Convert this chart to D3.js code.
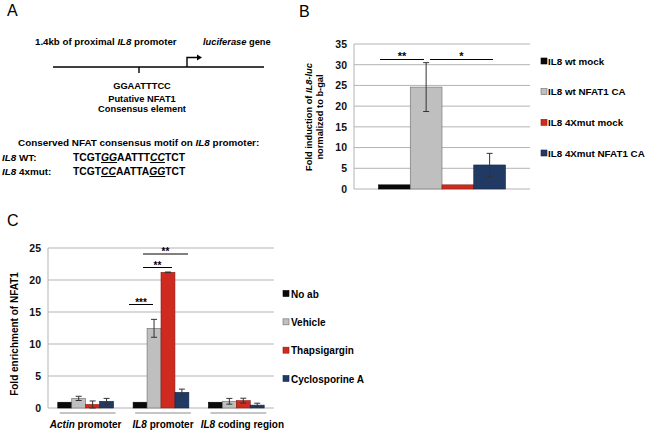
<!DOCTYPE html>
<html><head><meta charset="utf-8">
<script src="https://cdn.jsdelivr.net/npm/d3@7"></script>
<style>
body{margin:0;background:#fff;}
svg{font-family:"Liberation Sans",Arial,sans-serif;}
</style></head>
<body>
<svg id="c" width="646" height="430"></svg>
<script>
// ---- Panel B data ----
const bSeries = ["IL8 wt mock","IL8 wt NFAT1 CA","IL8 4Xmut mock","IL8 4Xmut NFAT1 CA"];
const bValues = [1.0, 24.6, 1.0, 5.8];
const bErrors = [0, 5.9, 0, 2.8];
const bTicks = [0,5,10,15,20,25,30,35];
// ---- Panel C data ----
const cCategories = ["Actin promoter","IL8 promoter","IL8 coding region"];
const cSeries = ["No ab","Vehicle","Thapsigargin","Cyclosporine A"];
const cNoAb = [0.9, 0.9, 0.9];
const cVehicle = [1.5, 12.45, 1.05];
const cThapsigargin = [0.55, 21.2, 1.15];
const cCyclosporine = [1.05, 2.45, 0.45];
const cVehicleErr = [0.33, 1.4, 0.45];
const cThapsigarginErr = [0.55, 0.05, 0.38];
const cCyclosporineErr = [0.45, 0.5, 0.3];
const cNoAbErr = [0, 0, 0];
const cTicks = [0,5,10,15,20,25];

const colors = ["#0a0a0a","#bfbfbf","#cf2a1f","#213a63"];
const strokes = ["#000","#6b6b6b","#8a1c14","#14264a"];

const svg = d3.select("#c");
const F = "Liberation Sans, Arial, sans-serif";

// ================= Panel A =================
const A = svg.append("g");
A.append("text").attr("x",7).attr("y",16).attr("font-size",16).text("A");
A.append("text").attr("x",35).attr("y",45).attr("font-size",9.7).attr("font-weight","bold")
  .html('1.4kb of proximal <tspan font-style="italic">IL8</tspan> promoter');
A.append("text").attr("x",203).attr("y",45).attr("font-size",9.3).attr("font-weight","bold")
  .html('<tspan font-style="italic">luciferase</tspan> gene');
A.append("line").attr("x1",53).attr("x2",264).attr("y1",67).attr("y2",67).attr("stroke","#000").attr("stroke-width",1.6);
A.append("line").attr("x1",139).attr("x2",139).attr("y1",67).attr("y2",73).attr("stroke","#000").attr("stroke-width",1.4);
A.append("path").attr("d","M187,67V57.5H198").attr("fill","none").attr("stroke","#000").attr("stroke-width",1.4);
A.append("path").attr("d","M197,54.5L202,57.5L197,60.5Z").attr("fill","#000");
A.append("text").attr("x",142).attr("y",89).attr("text-anchor","middle").attr("font-size",9.3).attr("font-weight","bold").text("GGAATTTCC");
A.append("text").attr("x",142).attr("y",102).attr("text-anchor","middle").attr("font-size",9.3).attr("font-weight","bold").text("Putative NFAT1");
A.append("text").attr("x",142).attr("y",112).attr("text-anchor","middle").attr("font-size",9.3).attr("font-weight","bold").text("Consensus element");
A.append("text").attr("x",18).attr("y",146).attr("font-size",9.9).attr("font-weight","bold")
  .html('Conserved NFAT consensus motif on <tspan font-style="italic">IL8</tspan> promoter:');
A.append("text").attr("x",2).attr("y",161).attr("font-size",9.9).attr("font-weight","bold")
  .html('<tspan font-style="italic">IL8</tspan> WT:');
A.append("text").attr("x",2).attr("y",175).attr("font-size",9.9).attr("font-weight","bold")
  .html('<tspan font-style="italic">IL8</tspan> 4xmut:');
function seq(y, parts){
  const t = A.append("text").attr("x",73).attr("y",y).attr("font-size",10.3).attr("font-weight","bold");
  parts.forEach(p=>{
    const s = t.append("tspan").text(p[0]);
    if(p[1]) s.attr("font-style","italic").attr("text-decoration","underline");
  });
}
seq(161, [["TCGT",0],["GG",1],["AATTT",0],["CC",1],["TCT",0]]);
seq(175, [["TCGT",0],["CC",1],["AATTA",0],["GG",1],["TCT",0]]);

// ================= Panel B =================
const B = svg.append("g");
B.append("text").attr("x",299).attr("y",17).attr("font-size",16).text("B");
const byS = d3.scaleLinear().domain([0,35]).range([189,44]);
const bx0 = d3.scaleBand().domain(["g"]).range([354,530]).paddingOuter(0.193).paddingInner(0);
const bx1 = d3.scaleBand().domain(bSeries).range([0,bx0.bandwidth()]);
B.append("g").selectAll("line").data(bTicks).join("line")
  .attr("x1",354).attr("x2",530).attr("y1",d=>byS(d)).attr("y2",d=>byS(d))
  .attr("stroke","#b3b3b3").attr("stroke-width",1);
B.append("line").attr("x1",354).attr("x2",354).attr("y1",44).attr("y2",189).attr("stroke","#b3b3b3");
const byAxis = d3.axisLeft(byS).tickValues(bTicks).tickSize(0).tickPadding(7);
const bag = B.append("g").attr("transform","translate(354,0)").call(byAxis);
bag.select(".domain").remove();
bag.selectAll("text").attr("font-size",10.5).attr("font-weight","bold").attr("fill","#111").attr("font-family",F);
B.append("g").selectAll("rect").data(bValues).join("rect")
  .attr("x",(d,i)=>bx0("g")+bx1(bSeries[i])).attr("width",bx1.bandwidth())
  .attr("y",d=>byS(d)).attr("height",d=>byS(0)-byS(d))
  .attr("fill",(d,i)=>colors[i]).attr("stroke",(d,i)=>strokes[i]).attr("stroke-width",0.6);
bValues.forEach((v,i)=>{
  if(!bErrors[i]) return;
  const cx = bx0("g")+bx1(bSeries[i])+bx1.bandwidth()/2;
  const g = B.append("g").attr("stroke","#333").attr("stroke-width",1);
  g.append("line").attr("x1",cx).attr("x2",cx).attr("y1",byS(v+bErrors[i])).attr("y2",byS(v-bErrors[i]));
  [v+bErrors[i], v-bErrors[i]].forEach(e=>g.append("line").attr("x1",cx-3).attr("x2",cx+3).attr("y1",byS(e)).attr("y2",byS(e)));
});
const sigB = [{x1:380,x2:424,t:"**"},{x1:430,x2:493,t:"*"}];
sigB.forEach(s=>{
  B.append("line").attr("x1",s.x1).attr("x2",s.x2).attr("y1",59.5).attr("y2",59.5).attr("stroke","#000").attr("stroke-width",1);
  B.append("text").attr("x",(s.x1+s.x2)/2).attr("y",60).attr("text-anchor","middle").attr("font-size",11).attr("font-weight","bold").text(s.t);
});
B.append("text").attr("transform","translate(312,117) rotate(-90)").attr("text-anchor","middle")
  .attr("font-size",9.3).attr("font-weight","bold")
  .html('Fold induction of <tspan font-style="italic">IL8-luc</tspan>');
B.append("text").attr("transform","translate(323,117) rotate(-90)").attr("text-anchor","middle")
  .attr("font-size",9.3).attr("font-weight","bold").text("normalized to b-gal");
const bLegY = d3.scalePoint().domain(bSeries).range([61,153]);
bSeries.forEach((s,i)=>{
  B.append("rect").attr("x",541).attr("y",bLegY(s)-3).attr("width",6).attr("height",6)
    .attr("fill",colors[i]).attr("stroke",strokes[i]).attr("stroke-width",0.6);
  B.append("text").attr("x",548).attr("y",bLegY(s)+3.5).attr("font-size",9.8).attr("font-weight","bold").text(s);
});

// ================= Panel C =================
const C = svg.append("g");
C.append("text").attr("x",7).attr("y",226).attr("font-size",16).text("C");
const cyS = d3.scaleLinear().domain([0,25]).range([408,248]);
const cx0 = d3.scaleBand().domain(cCategories).range([48,274]).paddingInner(0.26).paddingOuter(0.13);
const cx1 = d3.scaleBand().domain(cSeries).range([0,cx0.bandwidth()]);
C.append("g").selectAll("line").data(cTicks).join("line")
  .attr("x1",48).attr("x2",274).attr("y1",d=>cyS(d)).attr("y2",d=>cyS(d))
  .attr("stroke","#b3b3b3").attr("stroke-width",1);
C.append("line").attr("x1",48).attr("x2",48).attr("y1",248).attr("y2",408).attr("stroke","#b3b3b3");
const cag = C.append("g").attr("transform","translate(48,0)").call(d3.axisLeft(cyS).tickValues(cTicks).tickSize(0).tickPadding(7));
cag.select(".domain").remove();
cag.selectAll("text").attr("font-size",10.5).attr("font-weight","bold").attr("fill","#111").attr("font-family",F);
const cVals = [cNoAb,cVehicle,cThapsigargin,cCyclosporine];
const cErrs = [cNoAbErr,cVehicleErr,cThapsigarginErr,cCyclosporineErr];
cCategories.forEach((cat,ci)=>{
  cSeries.forEach((s,si)=>{
    const v = cVals[si][ci];
    const x = cx0(cat)+cx1(s);
    C.append("rect").attr("x",x).attr("width",cx1.bandwidth()).attr("y",cyS(v)).attr("height",cyS(0)-cyS(v))
      .attr("fill",colors[si]).attr("stroke",strokes[si]).attr("stroke-width",0.6);
    const e = cErrs[si][ci];
    if(e>0){
      const cx = x+cx1.bandwidth()/2;
      const g = C.append("g").attr("stroke","#333").attr("stroke-width",1);
      g.append("line").attr("x1",cx).attr("x2",cx).attr("y1",cyS(v+e)).attr("y2",cyS(Math.max(0,v-e)));
      [v+e, Math.max(0,v-e)].forEach(y=>g.append("line").attr("x1",cx-3).attr("x2",cx+3).attr("y1",cyS(y)).attr("y2",cyS(y)));
    }
  });
  C.append("line").attr("x1",cx0(cat)+2).attr("x2",cx0(cat)+cx0.bandwidth()+2).attr("y1",413).attr("y2",413)
    .attr("stroke","#8c8c8c").attr("stroke-width",1.2);
});
const xl = ['<tspan font-style="italic">Actin</tspan> promoter','<tspan font-style="italic">IL8</tspan> promoter','<tspan font-style="italic">IL8</tspan> coding region'];
const xlOff = [0, 2, 6];
cCategories.forEach((cat,i)=>{
  C.append("text").attr("x",cx0(cat)+cx0.bandwidth()/2+xlOff[i]).attr("y",428).attr("text-anchor","middle")
    .attr("font-size",10).attr("font-weight","bold").html(xl[i]);
});
const sigC = [{x1:129,x2:153,y:304.5,t:"***"},{x1:143,x2:172,y:267.5,t:"**"},{x1:143,x2:188,y:254,t:"**"}];
sigC.forEach(s=>{
  C.append("line").attr("x1",s.x1).attr("x2",s.x2).attr("y1",s.y).attr("y2",s.y).attr("stroke","#000").attr("stroke-width",1);
  C.append("text").attr("x",(s.x1+s.x2)/2).attr("y",s.y+1).attr("text-anchor","middle").attr("font-size",10).attr("font-weight","bold").text(s.t);
});
C.append("text").attr("transform","translate(18,334) rotate(-90)").attr("text-anchor","middle")
  .attr("font-size",10).attr("font-weight","bold").text("Fold enrichment of NFAT1");
const cLegY = d3.scalePoint().domain(cSeries).range([294,379]);
cSeries.forEach((s,i)=>{
  C.append("rect").attr("x",283).attr("y",cLegY(s)-3.5).attr("width",6).attr("height",6)
    .attr("fill",colors[i]).attr("stroke",strokes[i]).attr("stroke-width",0.6);
  C.append("text").attr("x",291).attr("y",cLegY(s)+3.5).attr("font-size",10).attr("font-weight","bold").text(s);
});
</script>
</body></html>
